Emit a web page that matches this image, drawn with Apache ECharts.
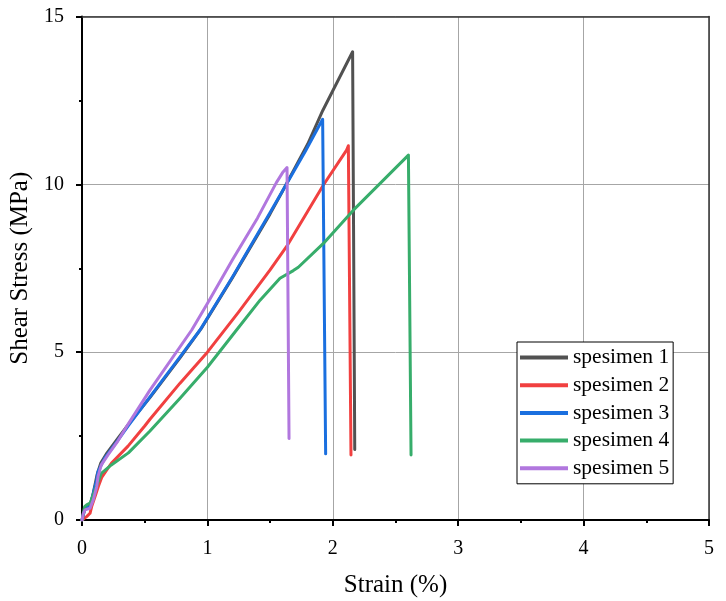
<!DOCTYPE html>
<html>
<head>
<meta charset="utf-8">
<script src="https://cdn.jsdelivr.net/npm/echarts@6/dist/echarts.min.js"></script>
<style>
  html, body { margin: 0; padding: 0; background: #fff; }
  #chart { width: 726px; height: 601px; }
</style>
</head>
<body>
<div id="chart"></div>
<script>
// Shear stress vs strain for five specimens (strain in %, stress in MPa)
const seriesNames = ['spesimen 1', 'spesimen 2', 'spesimen 3', 'spesimen 4', 'spesimen 5'];
const seriesColors = ['#515151', '#F14040', '#1A6FDF', '#37AD6B', '#B177DE'];

const strain1 = [0, 0.024, 0.064, 0.09, 0.12, 0.15, 0.2, 0.29, 0.37, 0.54, 0.78, 0.95, 1.2, 1.5, 1.6, 1.8, 1.92, 2.158, 2.175];
const stress1 = [0, 0.35, 0.42, 0.8, 1.35, 1.7, 2.0, 2.45, 2.85, 3.64, 4.82, 5.7, 7.22, 9.12, 9.8, 11.2, 12.2, 13.95, 2.1];

const strain2 = [0, 0.037, 0.064, 0.077, 0.104, 0.13, 0.157, 0.234, 0.367, 0.5, 0.542, 0.78, 1.0, 1.25, 1.5, 1.632, 1.8, 1.925, 2.11, 2.124, 2.145];
const stress2 = [0, 0.1, 0.2, 0.4, 0.7, 1.0, 1.27, 1.69, 2.2, 2.8, 3.0, 4.07, 5.0, 6.2, 7.45, 8.15, 9.2, 9.98, 11.02, 11.15, 1.94];

const strain3 = [0, 0.024, 0.064, 0.09, 0.117, 0.128, 0.181, 0.287, 0.367, 0.542, 0.78, 0.941, 1.2, 1.5, 1.78, 1.919, 1.943];
const stress3 = [0, 0.35, 0.4, 0.8, 1.19, 1.45, 1.84, 2.38, 2.8, 3.67, 4.85, 5.66, 7.24, 9.16, 10.98, 11.94, 1.97];

const strain4 = [0, 0.021, 0.037, 0.064, 0.09, 0.114, 0.154, 0.234, 0.37, 0.542, 0.78, 1.0, 1.22, 1.42, 1.579, 1.685, 1.725, 1.925, 2.164, 2.603, 2.624];
const stress4 = [0, 0.4, 0.45, 0.5, 0.75, 0.99, 1.39, 1.64, 2.0, 2.65, 3.62, 4.55, 5.6, 6.55, 7.2, 7.43, 7.53, 8.24, 9.23, 10.87, 1.94];

const strain5 = [0, 0.011, 0.024, 0.064, 0.09, 0.117, 0.128, 0.154, 0.207, 0.287, 0.367, 0.542, 0.875, 1.0, 1.2, 1.4, 1.55, 1.6, 1.635, 1.651];
const stress5 = [0, 0.2, 0.3, 0.35, 0.6, 0.99, 1.3, 1.64, 1.94, 2.36, 2.85, 3.87, 5.66, 6.45, 7.75, 9.0, 10.05, 10.35, 10.5, 2.43];

const strainTicks = [0, 1, 2, 3, 4, 5];
const stressTicks = [0, 5, 10, 15];

const strains = [strain1, strain2, strain3, strain4, strain5];
const stresses = [stress1, stress2, stress3, stress4, stress5];

const FONT = '"Liberation Serif", "DejaVu Serif", serif';

function pairs(xs, ys) {
  return xs.map((x, i) => [x, ys[i]]);
}

const chart = echarts.init(document.getElementById('chart'), null, { renderer: 'canvas' });

const series = seriesNames.map((name, i) => ({
  name: name,
  type: 'line',
  xAxisIndex: 0,
  yAxisIndex: 0,
  data: pairs(strains[i], stresses[i]),
  showSymbol: false,
  symbol: 'none',
  smooth: false,
  color: seriesColors[i],
  lineStyle: { width: 3, color: seriesColors[i], join: 'round', cap: 'round' },
  emphasis: { disabled: true }
}));

const option = {
  animation: false,
  backgroundColor: '#fff',
  textStyle: { fontFamily: FONT, color: '#000' },
  grid: { left: 82, right: 17, top: 16.5, bottom: 81, containLabel: false, outerBoundsMode: 'none' },
  legend: {
    orient: 'vertical',
    left: 517,
    top: 342,
    data: seriesNames,
    icon: 'rect',
    itemWidth: 48,
    itemHeight: 4,
    itemGap: 5.7,
    padding: [4.5, 4, 4.5, 3],
    borderColor: '#000',
    borderWidth: 1,
    backgroundColor: '#fff',
    textStyle: { fontFamily: FONT, fontSize: 21.5, color: '#000', lineHeight: 21 },
    selectedMode: false
  },
  xAxis: [
    {
      type: 'value',
      min: strainTicks[0],
      max: strainTicks[strainTicks.length - 1],
      interval: 1,
      name: 'Strain (%)',
      nameLocation: 'middle',
      nameGap: 53,
      nameTextStyle: { fontFamily: FONT, fontSize: 25, color: '#000' },
      axisLine: { show: true, onZero: false, lineStyle: { color: '#000', width: 2 } },
      axisTick: { show: true, inside: false, length: 6, lineStyle: { color: '#000', width: 2 } },
      minorTick: { show: true, splitNumber: 2, length: 3, lineStyle: { color: '#000', width: 2 } },
      axisLabel: { show: true, margin: 19, fontFamily: FONT, fontSize: 20, color: '#000' },
      splitLine: { show: true, lineStyle: { color: '#a6a6a6', width: 1 } }
    },
    {
      type: 'value',
      position: 'top',
      min: 0, max: 5, interval: 1,
      axisLine: { show: true, onZero: false, lineStyle: { color: '#333', width: 1.5 } },
      axisTick: { show: false },
      axisLabel: { show: false },
      splitLine: { show: false }
    }
  ],
  yAxis: [
    {
      type: 'value',
      min: stressTicks[0],
      max: stressTicks[stressTicks.length - 1],
      interval: 5,
      name: 'Shear Stress (MPa)',
      nameLocation: 'middle',
      nameGap: 40,
      nameTextStyle: { fontFamily: FONT, fontSize: 25, color: '#000' },
      axisLine: { show: true, onZero: false, lineStyle: { color: '#000', width: 2 } },
      axisTick: { show: true, inside: false, length: 6, lineStyle: { color: '#000', width: 2 } },
      minorTick: { show: true, splitNumber: 2, length: 3, lineStyle: { color: '#000', width: 2 } },
      axisLabel: { show: true, margin: 18, fontFamily: FONT, fontSize: 20, color: '#000' },
      splitLine: { show: true, lineStyle: { color: '#a6a6a6', width: 1 } }
    },
    {
      type: 'value',
      position: 'right',
      min: 0, max: 15, interval: 5,
      axisLine: { show: true, onZero: false, lineStyle: { color: '#333', width: 1.5 } },
      axisTick: { show: false },
      axisLabel: { show: false },
      splitLine: { show: false }
    }
  ],
  series: series
};

chart.setOption(option);
</script>
</body>
</html>
